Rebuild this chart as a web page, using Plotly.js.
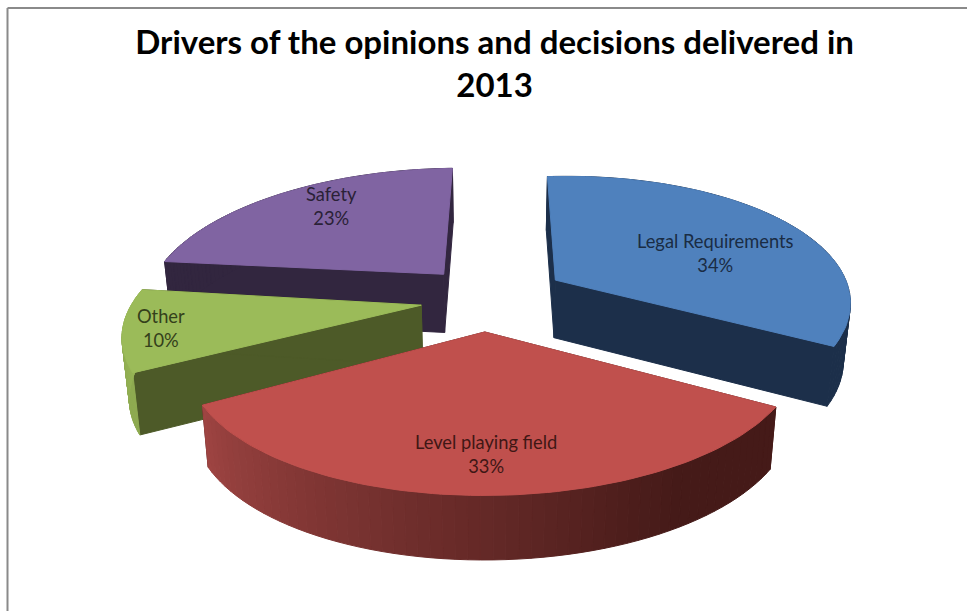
<!DOCTYPE html>
<html>
<head>
<meta charset="utf-8">
<script src="https://cdn.plot.ly/plotly-3.0.1.min.js"></script>
<style>html,body{margin:0;padding:0;background:#fff}</style>
</head>
<body>
<div id="chart" style="width:967px;height:611px"></div>
<script>
// --- data ---
const categories = ["Legal Requirements", "Level playing field", "Other", "Safety"];
const shares = [34, 33, 10, 23];
const chartTitle = "Drivers of the opinions and decisions delivered in<br>2013";

// --- styling, per slice ---
const topColors = ["#4F81BD", "#C0504D", "#9BBB59", "#8064A2"];
const cutColors = ["#1C2F4A", "#4D1E1C", "#4D5A28", "#32263F"];
const arcFromColors = ["#1C2F4A", "#451A18", "#8EAA50", "#32263F"];
const arcToColors = ["#1C2F4A", "#A04543", "#9BBB59", "#32263F"];
const labelColors = ["#1A2C44", "#3F1715", "#34401B", "#2A2136"];
const labelReach = [0.55, 0.77, 0.90, 0.60];
const labelShiftX = [32, 4, 8, -11];
const labelShiftY = [8, 3, 1, -17];

// --- per-slice corrections of the projection ---
const apexShiftX = [4, -3, 0, 0];
const apexShiftY = [-3, 0, 0, 0];
const rimShiftX = [3, 8.5, 2, 1];
const radXScale = [0.96, 1.015, 0.99, 0.985];
const radYScale = [0.98, 1.03, 1, 1];
const tilt = [-0.03, -0.012, 0, -0.01];
const depthScale = [0.96, 1, 1, 0.97];

// --- oblique projection of the exploded disc on to a pixel-sized axis pair ---
const view = {cx: 490, cy: 299, pullX: 70, pullY: 33, radX: 295, radY: 127, persp: 0.2,
              depth: 60, depthPersp: 0.07, baseShrink: 0.98};
const total = shares.reduce((a, b) => a + b, 0);
const toRad = f => f * 2 * Math.PI;

function project(slice, frac, r, lower) {
  const i = slice.index;
  const mid = (slice.start + slice.end) / 2;
  const ax = view.cx + view.pullX * Math.sin(toRad(mid)) + apexShiftX[i];
  const ay = view.cy - view.pullY * Math.cos(toRad(mid)) + apexShiftY[i];
  const Y = r * Math.cos(toRad(frac));
  const s = 1 + view.persp * Y;
  let x = view.cx + (ax - view.cx + view.radX * radXScale[i] * r * Math.sin(toRad(frac))) / s + rimShiftX[i] * r;
  let y = ay - view.radY * radYScale[i] * Y / s + tilt[i] * (x - ax);
  if (lower) {
    x = view.cx + (x - view.cx) * view.baseShrink;
    y += view.depth * depthScale[i] / (1 + view.depthPersp * Y);
  }
  return [x, y];
}
function hex(c) { return [1, 3, 5].map(i => parseInt(c.substr(i, 2), 16)); }
function mix(a, b, t) {
  const A = hex(a), B = hex(b);
  return "rgb(" + A.map((v, i) => Math.round(v + (B[i] - v) * t)).join(",") + ")";
}

let run = 0;
const slices = shares.map((v, index) => {
  const s = {index: index, start: run / total, end: (run + v) / total};
  run += v;
  return s;
});

function poly(points, color, name, text) {
  const xs = points.map(p => p[0]).concat(points[0][0]);
  const ys = points.map(p => p[1]).concat(points[0][1]);
  const tr = {type: "scatter", mode: "lines", x: xs, y: ys, fill: "toself", fillcolor: color,
              line: {color: color, width: 1}, showlegend: false, hoverinfo: "skip", name: name};
  if (text) { tr.hoverinfo = "text"; tr.text = text; tr.hoveron = "fills"; }
  return tr;
}

const traces = [];
const drawOrder = [3, 2, 0, 1];
const steps = 60;
drawOrder.forEach(i => {
  const s = slices[i];
  // flat cut faces
  [s.start, s.end].forEach(f => {
    traces.push(poly([project(s, f, 0, false), project(s, f, 1, false),
                      project(s, f, 1, true), project(s, f, 0, true)], cutColors[i], categories[i] + " cut"));
  });
  // curved rim, in short shaded strips
  for (let k = 0; k < steps; k++) {
    const t0 = k / steps, t1 = (k + 1) / steps;
    const f0 = s.start + (s.end - s.start) * t0, f1 = s.start + (s.end - s.start) * t1;
    const shade = Math.min(1, Math.max(0, (t0 - 0.22) / 0.78));
    traces.push(poly([project(s, f0, 1, false), project(s, f1, 1, false),
                      project(s, f1, 1, true), project(s, f0, 1, true)],
                     mix(arcFromColors[i], arcToColors[i], shade), categories[i] + " rim"));
  }
  // top face
  const top = [project(s, s.start, 0, false)];
  for (let k = 0; k <= 80; k++) top.push(project(s, s.start + (s.end - s.start) * k / 80, 1, false));
  traces.push(poly(top, topColors[i], categories[i], categories[i] + ": " + shares[i] + "%"));
});

const annotations = slices.map((s, i) => {
  const p = project(s, (s.start + s.end) / 2, labelReach[i], false);
  return {x: p[0] + labelShiftX[i], y: p[1] + labelShiftY[i], xref: "x", yref: "y", showarrow: false,
          text: categories[i] + "<br>" + shares[i] + "%",
          font: {family: "Lato, 'Noto Sans', sans-serif", size: 18.3, color: labelColors[i]},
          align: "center", xanchor: "center", yanchor: "middle"};
});

const frame = {color: "#8A8A8A", width: 2};
const layout = {
  width: 967, height: 611,
  margin: {l: 0, r: 0, t: 0, b: 0},
  paper_bgcolor: "#ffffff", plot_bgcolor: "#ffffff",
  showlegend: false,
  title: {text: "<b>" + chartTitle + "</b>", x: 0.5115, xanchor: "center", y: 0.912, yanchor: "middle",
          font: {family: "Lato, 'Noto Sans', sans-serif", size: 33, color: "#000000"}},
  xaxis: {range: [0, 967], visible: false, fixedrange: true},
  yaxis: {range: [611, 0], visible: false, fixedrange: true},
  annotations: annotations,
  shapes: [
    {type: "line", xref: "x", yref: "y", x0: 7.5, x1: 7.5, y0: 8, y1: 611, line: frame},
    {type: "line", xref: "x", yref: "y", x0: 7.5, x1: 967, y0: 8, y1: 8, line: frame}
  ]
};
Plotly.newPlot("chart", traces, layout, {displayModeBar: false, responsive: false});
</script>
</body>
</html>
